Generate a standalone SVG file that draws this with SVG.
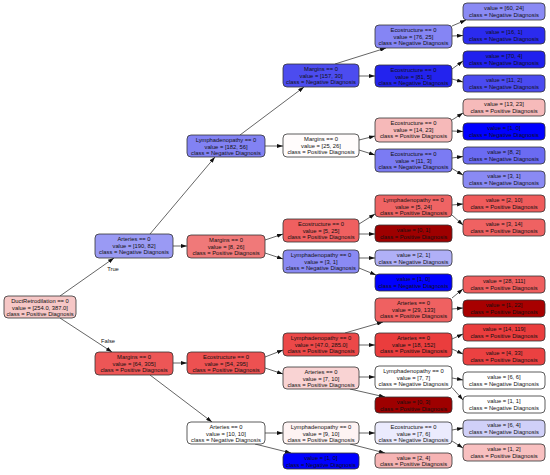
<svg xmlns="http://www.w3.org/2000/svg" width="550" height="475" viewBox="0 0 550 475">
<defs>
<marker id="ah" markerWidth="6" markerHeight="4" refX="6" refY="2" orient="auto" markerUnits="userSpaceOnUse"><path d="M0,0 L6,2 L0,4 z" fill="#111"/></marker>
<style>
.n rect{stroke:#333;stroke-width:0.8}
.n text{font-family:"Liberation Sans",Arial,sans-serif;font-size:5.8px;text-anchor:middle;fill:#111}
.e line{stroke:#222;stroke-width:0.7;marker-end:url(#ah)}
.lbl{font-family:"Liberation Sans",Arial,sans-serif;font-size:5.8px;text-anchor:middle;fill:#111}
</style>
</defs>
<rect width="550" height="475" fill="#fff"/>
<g id="edges" class="e">
<line x1="60" y1="296" x2="114" y2="258"/>
<line x1="60" y1="318" x2="112" y2="352"/>
<line x1="150" y1="234" x2="215" y2="157"/>
<line x1="173" y1="246" x2="187" y2="246"/>
<line x1="173" y1="363" x2="187" y2="363"/>
<line x1="150" y1="375" x2="212" y2="422"/>
<line x1="240" y1="135" x2="304" y2="87"/>
<line x1="265" y1="146" x2="283" y2="146"/>
<line x1="265" y1="240" x2="283" y2="234"/>
<line x1="265" y1="253" x2="283" y2="259"/>
<line x1="265" y1="357" x2="283" y2="350"/>
<line x1="265" y1="368" x2="283" y2="374"/>
<line x1="265" y1="433" x2="283" y2="433"/>
<line x1="255" y1="444" x2="291" y2="453"/>
<line x1="335" y1="64" x2="386" y2="48"/>
<line x1="359" y1="76" x2="375" y2="76"/>
<line x1="359" y1="140" x2="375" y2="136"/>
<line x1="359" y1="150" x2="375" y2="155"/>
<line x1="359" y1="224" x2="375" y2="214"/>
<line x1="359" y1="234" x2="375" y2="234"/>
<line x1="359" y1="258" x2="375" y2="258"/>
<line x1="359" y1="268" x2="376" y2="275"/>
<line x1="345" y1="333" x2="383" y2="322"/>
<line x1="359" y1="345" x2="375" y2="345"/>
<line x1="359" y1="377" x2="375" y2="377"/>
<line x1="350" y1="389" x2="385" y2="397"/>
<line x1="359" y1="433" x2="375" y2="433"/>
<line x1="350" y1="444" x2="385" y2="453"/>
<line x1="452" y1="26" x2="466" y2="20"/>
<line x1="452" y1="36" x2="463" y2="35.5"/>
<line x1="452" y1="69" x2="463" y2="61"/>
<line x1="452" y1="79" x2="463" y2="82"/>
<line x1="452" y1="120" x2="463" y2="113"/>
<line x1="452" y1="131" x2="463" y2="131.5"/>
<line x1="452" y1="158" x2="463" y2="156.5"/>
<line x1="452" y1="168.5" x2="463" y2="175"/>
<line x1="452" y1="205" x2="463" y2="204"/>
<line x1="452" y1="215" x2="463" y2="225"/>
<line x1="452" y1="298" x2="463" y2="289"/>
<line x1="452" y1="309" x2="463" y2="308"/>
<line x1="452" y1="339" x2="463" y2="334"/>
<line x1="452" y1="349" x2="463" y2="354"/>
<line x1="452" y1="378" x2="463" y2="380"/>
<line x1="452" y1="387.5" x2="463" y2="400"/>
<line x1="452" y1="430" x2="463" y2="428"/>
<line x1="452" y1="441" x2="463" y2="448"/>
</g>
<text class="lbl" x="113" y="271">True</text>
<text class="lbl" x="108" y="343">False</text>

<g id="n0" class="n"><rect x="4" y="296" width="72" height="22" rx="4" fill="#f6c7c6"/><text x="40" y="303">DuctRetrodilation == 0</text><text x="40" y="309.5">value = [254.0, 387.0]</text><text x="40" y="316">class = Positive Diagnosis</text></g>

<g id="n1" class="n"><rect x="95" y="234" width="78" height="24" rx="4" fill="#9a9af4"/><text x="134" y="241">Arteries == 0</text><text x="134" y="247.7">value = [190, 82]</text><text x="134" y="254.4">class = Negative Diagnosis</text></g>
<g id="n2" class="n"><rect x="95" y="352" width="78" height="23" rx="4" fill="#ed5656"/><text x="134" y="359">Margins == 0</text><text x="134" y="365.5">value = [64, 305]</text><text x="134" y="372">class = Positive Diagnosis</text></g>

<g id="n3" class="n"><rect x="187" y="135" width="78" height="22" rx="4" fill="#8282f3"/><text x="226" y="142">Lymphadenopathy == 0</text><text x="226" y="148.5">value = [182, 56]</text><text x="226" y="155">class = Negative Diagnosis</text></g>
<g id="n4" class="n"><rect x="187" y="235" width="78" height="23" rx="4" fill="#f07979"/><text x="226" y="242">Margins == 0</text><text x="226" y="248.5">value = [8, 26]</text><text x="226" y="255">class = Positive Diagnosis</text></g>
<g id="n5" class="n"><rect x="187" y="352" width="78" height="22" rx="4" fill="#ed5151"/><text x="226" y="359">Ecostructure == 0</text><text x="226" y="365.5">value = [54, 295]</text><text x="226" y="372">class = Positive Diagnosis</text></g>
<g id="n6" class="n"><rect x="187" y="422" width="78" height="22" rx="4" fill="#ffffff"/><text x="226" y="429">Arteries == 0</text><text x="226" y="435.5">value = [10, 10]</text><text x="226" y="442">class = Negative Diagnosis</text></g>

<g id="n7" class="n"><rect x="283" y="64" width="76" height="23" rx="4" fill="#4c4cef"/><text x="321" y="71">Margins == 0</text><text x="321" y="77.5">value = [157, 30]</text><text x="321" y="84">class = Negative Diagnosis</text></g>
<g id="n8" class="n"><rect x="283" y="134" width="76" height="23" rx="4" fill="#fffcfc"/><text x="321" y="141">Margins == 0</text><text x="321" y="147.5">value = [25, 26]</text><text x="321" y="154">class = Positive Diagnosis</text></g>
<g id="n9" class="n"><rect x="283" y="219" width="76" height="23" rx="4" fill="#ef6060"/><text x="321" y="226">Ecostructure == 0</text><text x="321" y="232.5">value = [5, 25]</text><text x="321" y="239">class = Positive Diagnosis</text></g>
<g id="n10" class="n"><rect x="283" y="250" width="76" height="23" rx="4" fill="#8a8af4"/><text x="321" y="257">Lymphadenopathy == 0</text><text x="321" y="263.5">value = [3, 1]</text><text x="321" y="270">class = Negative Diagnosis</text></g>
<g id="n11" class="n"><rect x="283" y="333" width="76" height="23" rx="4" fill="#ec4848"/><text x="321" y="340">Lymphadenopathy == 0</text><text x="321" y="346.5">value = [47.0, 285.0]</text><text x="321" y="353">class = Positive Diagnosis</text></g>
<g id="n12" class="n"><rect x="283" y="367" width="76" height="22" rx="4" fill="#f9d3d3"/><text x="321" y="374">Arteries == 0</text><text x="321" y="380.5">value = [7, 10]</text><text x="321" y="387">class = Positive Diagnosis</text></g>
<g id="n13" class="n"><rect x="283" y="422" width="76" height="22" rx="4" fill="#fef3f3"/><text x="321" y="429">Lymphadenopathy == 0</text><text x="321" y="435.5">value = [9, 10]</text><text x="321" y="442">class = Positive Diagnosis</text></g>
<g id="n14" class="n"><rect x="283" y="453" width="76" height="16" rx="4" fill="#0000ff"/><text x="321" y="460">value = [1, 0]</text><text x="321" y="466.5">class = Negative Diagnosis</text></g>

<g id="n15" class="n"><rect x="375" y="25" width="77" height="23" rx="4" fill="#8585f4"/><text x="413.5" y="32">Ecostructure == 0</text><text x="413.5" y="38.5">value = [76, 25]</text><text x="413.5" y="45">class = Negative Diagnosis</text></g>
<g id="n16" class="n"><rect x="375" y="65" width="77" height="22" rx="4" fill="#2323ee"/><text x="413.5" y="72">Ecostructure == 0</text><text x="413.5" y="78.5">value = [81, 5]</text><text x="413.5" y="85">class = Negative Diagnosis</text></g>
<g id="n17" class="n"><rect x="375" y="118" width="77" height="24" rx="4" fill="#f6b9b9"/><text x="413.5" y="125">Ecostructure == 0</text><text x="413.5" y="131.7">value = [14, 23]</text><text x="413.5" y="138.4">class = Positive Diagnosis</text></g>
<g id="n18" class="n"><rect x="375" y="149" width="77" height="23" rx="4" fill="#7b7bf3"/><text x="413.5" y="156">Ecostructure == 0</text><text x="413.5" y="162.5">value = [11, 3]</text><text x="413.5" y="169">class = Negative Diagnosis</text></g>
<g id="n19" class="n"><rect x="375" y="195" width="77" height="22" rx="4" fill="#ef6464"/><text x="413.5" y="202">Lymphadenopathy == 0</text><text x="413.5" y="208.5">value = [5, 24]</text><text x="413.5" y="215">class = Positive Diagnosis</text></g>
<g id="n20" class="n"><rect x="375" y="225" width="77" height="17" rx="4" fill="#9e0000"/><text x="413.5" y="232">value = [0, 1]</text><text x="413.5" y="239">class = Positive Diagnosis</text></g>
<g id="n21" class="n"><rect x="375" y="250" width="77" height="16" rx="4" fill="#b0b0f7"/><text x="413.5" y="257">value = [2, 1]</text><text x="413.5" y="263.5">class = Negative Diagnosis</text></g>
<g id="n22" class="n"><rect x="375" y="274" width="77" height="17" rx="4" fill="#0000ff"/><text x="413.5" y="281">value = [1, 0]</text><text x="413.5" y="288">class = Negative Diagnosis</text></g>
<g id="n23" class="n"><rect x="375" y="298" width="77" height="24" rx="4" fill="#ef6161"/><text x="413.5" y="305">Arteries == 0</text><text x="413.5" y="311.7">value = [29, 133]</text><text x="413.5" y="318.4">class = Positive Diagnosis</text></g>
<g id="n24" class="n"><rect x="375" y="333" width="77" height="24" rx="4" fill="#ea3d3d"/><text x="413.5" y="340">Arteries == 0</text><text x="413.5" y="346.7">value = [18, 152]</text><text x="413.5" y="353.4">class = Positive Diagnosis</text></g>
<g id="n25" class="n"><rect x="375" y="366" width="77" height="23" rx="4" fill="#ffffff"/><text x="413.5" y="373">Lymphadenopathy == 0</text><text x="413.5" y="379.5">value = [7, 7]</text><text x="413.5" y="386">class = Negative Diagnosis</text></g>
<g id="n26" class="n"><rect x="375" y="397" width="77" height="16" rx="4" fill="#9e0000"/><text x="413.5" y="404">value = [0, 3]</text><text x="413.5" y="410.5">class = Positive Diagnosis</text></g>
<g id="n27" class="n"><rect x="375" y="422" width="77" height="22" rx="4" fill="#ebebfd"/><text x="413.5" y="429">Ecostructure == 0</text><text x="413.5" y="435.5">value = [7, 6]</text><text x="413.5" y="442">class = Negative Diagnosis</text></g>
<g id="n28" class="n"><rect x="375" y="453" width="77" height="15" rx="4" fill="#f6b4b4"/><text x="413.5" y="459.5">value = [2, 4]</text><text x="413.5" y="466">class = Positive Diagnosis</text></g>

<g id="n29" class="n"><rect x="463" y="3" width="82" height="17" rx="4" fill="#8a8af4"/><text x="504" y="10">value = [60, 24]</text><text x="504" y="17">class = Negative Diagnosis</text></g>
<g id="n30" class="n"><rect x="463" y="27" width="82" height="17" rx="4" fill="#2b2bef"/><text x="504" y="34">value = [16, 1]</text><text x="504" y="41">class = Negative Diagnosis</text></g>
<g id="n31" class="n"><rect x="463" y="51" width="82" height="17" rx="4" fill="#2020ee"/><text x="504" y="58">value = [70, 4]</text><text x="504" y="65">class = Negative Diagnosis</text></g>
<g id="n32" class="n"><rect x="463" y="75" width="82" height="17" rx="4" fill="#4a4af0"/><text x="504" y="82">value = [11, 2]</text><text x="504" y="89">class = Negative Diagnosis</text></g>
<g id="n33" class="n"><rect x="463" y="99" width="82" height="17" rx="4" fill="#f6baba"/><text x="504" y="106">value = [13, 23]</text><text x="504" y="113">class = Positive Diagnosis</text></g>
<g id="n34" class="n"><rect x="463" y="123" width="82" height="17" rx="4" fill="#0000ff"/><text x="504" y="130">value = [1, 0]</text><text x="504" y="137">class = Negative Diagnosis</text></g>
<g id="n35" class="n"><rect x="463" y="147" width="82" height="17" rx="4" fill="#6b6bf2"/><text x="504" y="154">value = [8, 2]</text><text x="504" y="161">class = Negative Diagnosis</text></g>
<g id="n36" class="n"><rect x="463" y="171" width="82" height="17" rx="4" fill="#8a8af4"/><text x="504" y="178">value = [3, 1]</text><text x="504" y="185">class = Negative Diagnosis</text></g>
<g id="n37" class="n"><rect x="463" y="195" width="82" height="17" rx="4" fill="#ef5b5b"/><text x="504" y="202">value = [2, 10]</text><text x="504" y="209">class = Positive Diagnosis</text></g>
<g id="n38" class="n"><rect x="463" y="219" width="82" height="17" rx="4" fill="#ef6262"/><text x="504" y="226">value = [3, 14]</text><text x="504" y="233">class = Positive Diagnosis</text></g>
<g id="n39" class="n"><rect x="463" y="276" width="82" height="17" rx="4" fill="#ef5e5e"/><text x="504" y="283">value = [28, 111]</text><text x="504" y="290">class = Positive Diagnosis</text></g>
<g id="n40" class="n"><rect x="463" y="300" width="82" height="17" rx="4" fill="#a80000"/><text x="504" y="307">value = [1, 22]</text><text x="504" y="314">class = Positive Diagnosis</text></g>
<g id="n41" class="n"><rect x="463" y="324" width="82" height="17" rx="4" fill="#ea3d3d"/><text x="504" y="331">value = [14, 119]</text><text x="504" y="338">class = Positive Diagnosis</text></g>
<g id="n42" class="n"><rect x="463" y="348" width="82" height="17" rx="4" fill="#eb4141"/><text x="504" y="355">value = [4, 33]</text><text x="504" y="362">class = Positive Diagnosis</text></g>
<g id="n43" class="n"><rect x="463" y="372" width="82" height="17" rx="4" fill="#ffffff"/><text x="504" y="379">value = [6, 6]</text><text x="504" y="386">class = Negative Diagnosis</text></g>
<g id="n44" class="n"><rect x="463" y="396" width="82" height="17" rx="4" fill="#ffffff"/><text x="504" y="403">value = [1, 1]</text><text x="504" y="410">class = Negative Diagnosis</text></g>
<g id="n45" class="n"><rect x="463" y="420" width="82" height="17" rx="4" fill="#d0d0f8"/><text x="504" y="427">value = [6, 4]</text><text x="504" y="434">class = Negative Diagnosis</text></g>
<g id="n46" class="n"><rect x="463" y="444" width="82" height="17" rx="4" fill="#f8c0c0"/><text x="504" y="451">value = [1, 2]</text><text x="504" y="458">class = Positive Diagnosis</text></g>
</svg>
